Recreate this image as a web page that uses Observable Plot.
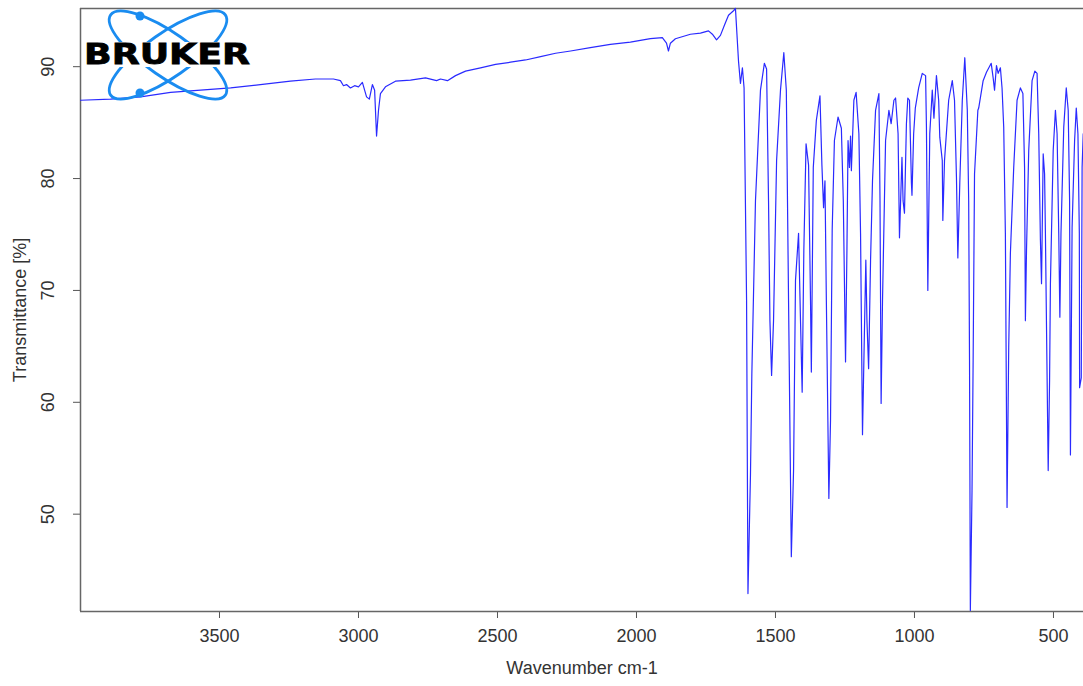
<!DOCTYPE html>
<html>
<head>
<meta charset="utf-8">
<script src="https://cdn.jsdelivr.net/npm/d3@7"></script>
<script src="https://cdn.jsdelivr.net/npm/@observablehq/plot@0.6"></script>
<style>
  html, body { margin: 0; padding: 0; background: #fff; }
  #wrap { position: relative; width: 1083px; height: 686px; overflow: hidden; }
  #logo { position: absolute; left: 0; top: 0; pointer-events: none; }
</style>
</head>
<body>
<div id="wrap"></div>
<script>
// Wavenumber (cm-1) and transmittance (%)
const wavenumber = [
  4000, 3892, 3784, 3676, 3568, 3460, 3353, 3245, 3155, 3090,
  3065, 3054, 3043, 3029, 3014, 3000, 2986, 2971, 2961, 2950,
  2942, 2935, 2928, 2921, 2903, 2867, 2813, 2759, 2719, 2705,
  2680, 2651, 2615, 2561, 2507, 2453, 2399, 2345, 2291, 2237,
  2166, 2094, 2022, 1950, 1907, 1892, 1885, 1878, 1860, 1806,
  1770, 1741, 1727, 1712, 1698, 1683, 1669, 1651, 1644, 1633,
  1626, 1619, 1613, 1604, 1599, 1590, 1585, 1572, 1554, 1540,
  1532, 1525, 1520, 1514, 1507, 1496, 1482, 1470, 1461, 1453,
  1443, 1435, 1428, 1417, 1410, 1404, 1398, 1390, 1381, 1374,
  1371, 1364, 1353, 1340, 1333, 1327, 1322, 1317, 1308, 1302,
  1296, 1288, 1275, 1263, 1256, 1248, 1243, 1239, 1234, 1230,
  1227, 1218, 1210, 1200, 1194, 1187, 1180, 1175, 1171, 1165,
  1158, 1151, 1140, 1128, 1124, 1120, 1115, 1104, 1092, 1084,
  1074, 1068, 1059, 1054, 1045, 1041, 1036, 1029, 1024, 1018,
  1011, 1009, 1003, 997, 985, 972, 960, 957, 952, 945,
  936, 930, 921, 913, 909, 900, 898, 892, 877, 864,
  856, 849, 844, 837, 828, 819, 810, 805, 802, 799,
  793, 789, 784, 772, 769, 753, 741, 724, 717, 712,
  705, 699, 691, 685, 679, 673, 667, 661, 655, 643,
  631, 619, 610, 604, 601, 597, 589, 577, 567, 559,
  553, 547, 543, 537, 532, 529, 519, 514, 511, 501,
  493, 487, 481, 477, 473, 463, 454, 447, 442, 439,
  433, 424, 418, 412, 407, 406, 400, 397, 393
];
const transmittance = [
  87.0, 87.1, 87.3, 87.7, 87.9, 88.1, 88.4, 88.7, 88.9, 88.9,
  88.75, 88.3, 88.4, 88.1, 88.3, 88.2, 88.6, 87.3, 87.1, 88.4,
  87.9, 83.8, 86.1, 87.6, 88.2, 88.7, 88.8, 89.0, 88.75, 88.9,
  88.75, 89.2, 89.6, 89.9, 90.2, 90.4, 90.6, 90.9, 91.2, 91.4,
  91.7, 92.0, 92.2, 92.5, 92.6, 92.1, 91.4, 92.1, 92.5, 92.9,
  93.0, 93.2, 92.9, 92.4, 92.8, 93.75, 94.6, 95.0, 95.2, 90.5,
  88.5, 89.9, 88.1, 69.1, 42.9, 53.5, 62.6, 78.0, 87.9, 90.3,
  89.8, 78.0, 67.3, 62.4, 67.3, 81.6, 87.9, 91.25, 87.9, 69.1,
  46.2, 53.9, 70.9, 75.1, 67.3, 60.9, 73.6, 83.1, 81.2, 69.1,
  62.7, 81.0, 85.2, 87.4, 81.2, 77.4, 79.8, 69.1, 51.4, 58.4,
  75.4, 83.4, 85.5, 84.5, 78.0, 63.6, 73.6, 83.4, 81.0, 83.8,
  80.7, 87.0, 87.7, 84.0, 75.1, 57.1, 66.4, 72.7, 67.3, 63.0,
  72.7, 79.8, 86.1, 87.6, 78.0, 59.9, 69.1, 83.4, 86.1, 84.9,
  87.0, 87.2, 84.0, 74.7, 81.9, 78.0, 76.9, 84.9, 87.2, 87.0,
  79.6, 78.5, 84.0, 86.3, 88.1, 89.4, 89.2, 84.6, 70.0, 84.0,
  87.9, 85.4, 89.2, 87.0, 83.7, 81.6, 76.25, 81.6, 87.0, 88.75,
  87.0, 80.1, 72.9, 79.6, 87.0, 90.8, 86.1, 78.0, 63.75, 41.4,
  52.1, 63.75, 80.4, 86.1, 86.3, 88.75, 89.5, 90.3, 89.0, 87.9,
  90.1, 89.4, 89.9, 88.1, 84.6, 75.1, 50.6, 64.9, 73.3, 81.0,
  87.0, 88.1, 87.6, 81.0, 67.3, 73.6, 82.5, 88.75, 89.6, 89.4,
  84.0, 74.5, 70.6, 82.2, 80.4, 75.1, 53.9, 62.0, 70.6, 82.5,
  86.1, 84.0, 75.1, 67.6, 75.1, 84.6, 88.1, 86.1, 78.0, 55.3,
  75.6, 83.4, 86.3, 84.0, 75.1, 61.3, 62.2, 81.0, 84.0
];
const xTicks = [3500, 3000, 2500, 2000, 1500, 1000, 500];
const yTicks = [50, 60, 70, 80, 90];
const xDomain = [4000, 392];
const yDomain = [41.3, 95.2];
const xTitle = "Wavenumber cm-1";
const yTitle = "Transmittance [%]";

const spectrum = wavenumber.map((w, i) => ({w, t: transmittance[i]}));
const fmt = d => String(d);

const chart = Plot.plot({
  width: 1083,
  height: 686,
  marginLeft: 80,
  marginRight: 0,
  marginTop: 8,
  marginBottom: 75,
  style: {fontFamily: "'Liberation Sans', Arial, sans-serif", fontSize: "18px", color: "#333", background: "#fff"},
  x: {domain: xDomain},
  y: {domain: yDomain},
  marks: [
    Plot.axisX(xTicks, {tickSize: 7, tickPadding: 11, fontSize: 18, stroke: "#555", tickFormat: fmt, label: null}),
    Plot.axisY(yTicks, {tickSize: 7, fontSize: 18, stroke: "#555", text: null, label: null}),
    Plot.text(yTicks, {x: xDomain[0], y: d => d, text: fmt, rotate: -90, dx: -32, fontSize: 18, fill: "#333"}),
    Plot.text([xTitle], {frameAnchor: "bottom", dy: 62, fontSize: 18, fill: "#333"}),
    Plot.text([yTitle], {frameAnchor: "left", textAnchor: "middle", dx: -60, rotate: -90, fontSize: 18, fill: "#333"}),
    Plot.ruleX([xDomain[0]], {stroke: "#666", strokeWidth: 1.5}),
    Plot.ruleY(yDomain, {stroke: "#666", strokeWidth: 1.5}),
    Plot.line(spectrum, {x: "w", y: "t", stroke: "#2a2aff", strokeWidth: 1.2})
  ]
});
document.getElementById("wrap").appendChild(chart);

// Bruker logo overlay (decoration)
const ns = "http://www.w3.org/2000/svg";
const logo = document.createElementNS(ns, "svg");
logo.setAttribute("id", "logo");
logo.setAttribute("width", 1083);
logo.setAttribute("height", 686);
logo.innerHTML = `
  <g fill="none" stroke="#1a8cf0" stroke-width="2.8">
    <ellipse cx="168" cy="55" rx="70" ry="22" transform="rotate(35 168 55)"/>
    <ellipse cx="168" cy="55" rx="70" ry="22" transform="rotate(-35 168 55)"/>
  </g>
  <circle cx="140" cy="16" r="4.5" fill="#1a8cf0"/>
  <circle cx="140" cy="93" r="4.5" fill="#1a8cf0"/>
  <rect x="83" y="42" width="168" height="25" fill="#fff"/>
  <text x="84" y="64" font-family="'DejaVu Sans', sans-serif" font-weight="900" font-size="28" textLength="166" lengthAdjust="spacingAndGlyphs" fill="#000" stroke="#000" stroke-width="0.8">BRUKER</text>
`;
document.getElementById("wrap").appendChild(logo);
</script>
</body>
</html>
